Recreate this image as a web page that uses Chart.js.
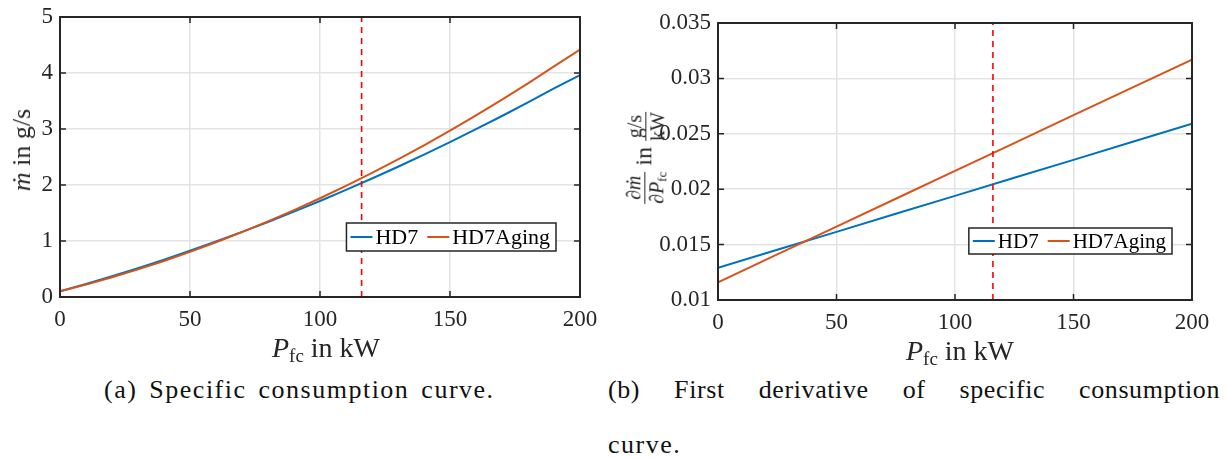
<!DOCTYPE html>
<html>
<head>
<meta charset="utf-8">
<script src="https://cdn.jsdelivr.net/npm/chart.js@4.4.0/dist/chart.umd.min.js"></script>
<style>
  body { margin: 0; background: #fff; font-family: "Liberation Serif", serif; }
  #wrap { position: relative; width: 1228px; height: 459px; overflow: hidden; }
  canvas { position: absolute; top: 0; }
  .t { position: absolute; white-space: nowrap; color: #262626; }
  .xt { font-size: 28px; transform: translate(-50%, -50%); }
  .xt sub { font-size: 19px; vertical-align: -5px; }
  .yt { transform: translate(-50%, -50%) rotate(-90deg); }
  .frac { display: inline-flex; flex-direction: column; vertical-align: middle; text-align: center; font-size: 20px; line-height: 1.1; }
  .frac .num { border-bottom: 1px solid #262626; padding: 0 1px; }
  .frac sub { font-size: 13px; vertical-align: -3px; }
  .cap { position: absolute; color: #111; font-size: 26px; letter-spacing: 1.5px; word-spacing: 4px; line-height: 30px; }
</style>
</head>
<body>
<div id="wrap">
  <canvas id="chartA" width="614" height="345" style="left:0"></canvas>
  <canvas id="chartB" width="614" height="345" style="left:614px"></canvas>

  <div class="t yt" style="left:22px;top:150px;font-size:26px"><i>ṁ</i> in g/s</div>
  <div class="t xt" style="left:326px;top:349px"><i>P</i><sub>fc</sub> in kW</div>

  <div class="t yt" style="left:646px;top:158px;font-size:24px">
    <span class="frac"><span class="num">∂<i>ṁ</i></span><span>∂<i>P</i><sub>fc</sub></span></span>
    in
    <span class="frac"><span class="num">g/s</span><span>kW</span></span>
  </div>
  <div class="t xt" style="left:960px;top:352px"><i>P</i><sub>fc</sub> in kW</div>

  <div class="cap" style="left:104px;top:375px">(a) Specific consumption curve.</div>
  <div class="cap" style="left:608px;top:375px;width:612px;text-align:justify;text-align-last:justify;letter-spacing:0.6px">(b) First derivative of specific consumption</div>
  <div class="cap" style="left:608px;top:430px">curve.</div>
</div>

<script>
// panel (a): mass flow over fuel cell power
const powerA = [0, 10, 20, 30, 40, 50, 60, 70, 80, 90, 100, 110, 120, 130, 140, 150, 160, 170, 180, 190, 200];
const hd7A = [0.10, 0.232, 0.371, 0.516, 0.668, 0.826, 0.991, 1.162, 1.340, 1.524, 1.715, 1.912, 2.116, 2.326, 2.543, 2.766, 2.996, 3.232, 3.475, 3.724, 3.96];
const agingA = [0.10, 0.221, 0.352, 0.493, 0.644, 0.806, 0.977, 1.158, 1.350, 1.551, 1.763, 1.984, 2.216, 2.457, 2.709, 2.971, 3.242, 3.524, 3.816, 4.118, 4.42];

// panel (b): first derivative
const powerB = [0, 25, 50, 75, 100, 125, 150, 175, 200];
const hd7B = [0.0129, 0.01453, 0.01615, 0.01778, 0.0194, 0.02103, 0.02265, 0.02428, 0.0259];
const agingB = [0.0116, 0.01411, 0.01663, 0.01914, 0.02165, 0.02416, 0.02668, 0.02919, 0.0317];

const markerPower = 116;
const seriesNames = ['HD7', 'HD7Aging'];
const xTicks = [0, 50, 100, 150, 200];
const yTicksA = [0, 1, 2, 3, 4, 5];
const yTicksB = [0.01, 0.015, 0.02, 0.025, 0.03, 0.035];
const yLabelsB = ['0.01', '0.015', '0.02', '0.025', '0.03', '0.035'];

const INK = '#262626';
const BLUE = '#0072BD';
const ORANGE = '#D95319';
const SERIF = '"Liberation Serif", "DejaVu Serif", serif';

Chart.defaults.font.family = SERIF;

const framePlugin = {
  id: 'frame',
  afterDatasetsDraw(chart, args, opts) {
    const ctx = chart.ctx;
    const a = chart.chartArea;
    const xs = chart.scales.x, ys = chart.scales.y;
    ctx.save();
    ctx.strokeStyle = INK;
    ctx.lineWidth = 1.5;
    ctx.beginPath();
    xs.ticks.forEach(t => {
      const px = xs.getPixelForValue(t.value);
      ctx.moveTo(px, a.bottom); ctx.lineTo(px, a.bottom - 6);
      ctx.moveTo(px, a.top); ctx.lineTo(px, a.top + 6);
    });
    ys.ticks.forEach(t => {
      const py = ys.getPixelForValue(t.value);
      ctx.moveTo(a.left, py); ctx.lineTo(a.left + 6, py);
      ctx.moveTo(a.right, py); ctx.lineTo(a.right - 6, py);
    });
    ctx.stroke();
    ctx.lineWidth = 2;
    ctx.strokeRect(a.left, a.top, a.right - a.left, a.bottom - a.top);

    // legend box inside the axes
    ctx.font = opts.font;
    const items = chart.data.datasets.filter(d => d.inLegend);
    const lineLen = 22, gap = 3, itemGap = 9, padL = 4, padR = 6;
    let w = padL + padR;
    items.forEach((d, i) => { w += lineLen + gap + ctx.measureText(d.label).width + (i ? itemGap : 0); });
    const x0 = opts.right - w, y0 = opts.cy - opts.h / 2;
    ctx.fillStyle = '#fff';
    ctx.fillRect(x0, y0, w, opts.h);
    ctx.lineWidth = 1.5;
    ctx.strokeStyle = INK;
    ctx.strokeRect(x0, y0, w, opts.h);
    let x = x0 + padL;
    ctx.textBaseline = 'middle';
    items.forEach((d, i) => {
      if (i) x += itemGap;
      ctx.strokeStyle = d.borderColor;
      ctx.lineWidth = 2;
      ctx.beginPath(); ctx.moveTo(x, opts.cy); ctx.lineTo(x + lineLen, opts.cy); ctx.stroke();
      x += lineLen + gap;
      ctx.fillStyle = '#000';
      ctx.fillText(d.label, x, opts.cy + 1);
      x += ctx.measureText(d.label).width;
    });
    ctx.restore();
  }
};

function makeChart(id, xs, s1, s2, yTicks, yLabels, yMin, yMax, box) {
  const canvas = document.getElementById(id);
  return new Chart(canvas, {
    type: 'line',
    data: {
      datasets: [
        {
          label: 'marker',
          data: [{ x: markerPower, y: yMin }, { x: markerPower, y: yMax }],
          borderColor: '#ff0000', borderWidth: 1.6, borderDash: [6, 5],
          pointRadius: 0, order: 0
        },
        {
          label: seriesNames[0], inLegend: true,
          data: xs.map((p, i) => ({ x: p, y: s1[i] })),
          borderColor: BLUE, borderWidth: 2, pointRadius: 0, order: 2
        },
        {
          label: seriesNames[1], inLegend: true,
          data: xs.map((p, i) => ({ x: p, y: s2[i] })),
          borderColor: ORANGE, borderWidth: 2, pointRadius: 0, order: 1
        }
      ]
    },
    options: {
      responsive: false,
      animation: false,
      layout: { padding: { left: 0, right: box.padRight, top: box.top, bottom: 0 } },
      plugins: {
        legend: { display: false },
        tooltip: { enabled: false },
        frame: { font: box.legendFont, right: box.legendRight, cy: box.legendCy, h: box.legendH }
      },
      scales: {
        x: {
          type: 'linear', min: 0, max: 200,
          afterBuildTicks: s => { s.ticks = xTicks.map(v => ({ value: v })); },
          afterFit: s => { s.height = 345 - box.bottom; s.paddingLeft = 0; s.paddingRight = 0; },
          grid: { color: '#e3e3e3', lineWidth: 1.5, drawTicks: false },
          border: { display: false },
          ticks: { color: INK, padding: 9, maxRotation: 0, font: { family: SERIF, size: 23 } }
        },
        y: {
          type: 'linear', min: yMin, max: yMax,
          afterBuildTicks: s => { s.ticks = yTicks.map(v => ({ value: v })); },
          afterFit: s => { s.width = box.left; s.paddingTop = 0; s.paddingBottom = 0; },
          grid: { color: '#e3e3e3', lineWidth: 1.5, drawTicks: false },
          border: { display: false },
          ticks: {
            color: INK, padding: 7, font: { family: SERIF, size: 23 },
            callback: (v, i) => yLabels[i]
          }
        }
      }
    },
    plugins: [framePlugin]
  });
}

function drawAll() {
  makeChart('chartA', powerA, hd7A, agingA, yTicksA, yTicksA.map(String), 0, 5,
    { left: 60, padRight: 34, top: 17, bottom: 297,
      legendFont: '22px ' + SERIF, legendRight: 556, legendCy: 237, legendH: 28 });

  makeChart('chartB', powerB, hd7B, agingB, yTicksB, yLabelsB, 0.01, 0.035,
    { left: 104, padRight: 36, top: 23, bottom: 300,
      legendFont: '21px ' + SERIF, legendRight: 558, legendCy: 241, legendH: 26 });
}

// wait until the page text has been laid out so the serif face is ready for the canvas
window.addEventListener('load', () => {
  document.fonts.load('23px "Liberation Serif"').then(drawAll, drawAll);
});
</script>
</body>
</html>
